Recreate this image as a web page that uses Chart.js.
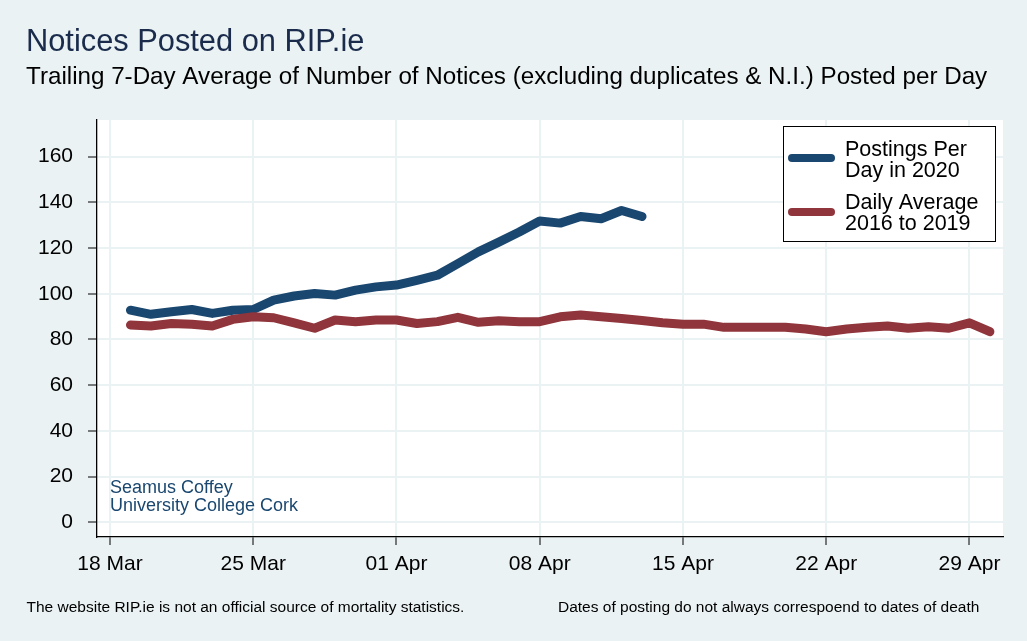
<!DOCTYPE html>
<html><head><meta charset="utf-8">
<script src="https://cdn.jsdelivr.net/npm/chart.js@4/dist/chart.umd.min.js"></script>
<style>html,body{margin:0;padding:0;background:#eaf2f3;overflow:hidden}#wrap{width:1027px;height:641px;position:relative}</style>
</head><body><div id="wrap"><canvas id="c" width="1027" height="641"></canvas></div>
<script>
const dates = ["2020-03-19","2020-03-20","2020-03-21","2020-03-22","2020-03-23","2020-03-24","2020-03-25","2020-03-26","2020-03-27","2020-03-28","2020-03-29","2020-03-30","2020-03-31","2020-04-01","2020-04-02","2020-04-03","2020-04-04","2020-04-05","2020-04-06","2020-04-07","2020-04-08","2020-04-09","2020-04-10","2020-04-11","2020-04-12","2020-04-13","2020-04-14","2020-04-15","2020-04-16","2020-04-17","2020-04-18","2020-04-19","2020-04-20","2020-04-21","2020-04-22","2020-04-23","2020-04-24","2020-04-25","2020-04-26","2020-04-27","2020-04-28","2020-04-29","2020-04-30"];
const postings2020 = [92.8,91.0,92.1,93.1,91.4,92.8,93.1,97.2,99.0,100.1,99.4,101.6,103.0,103.8,105.9,108.1,113.2,118.3,122.6,127.0,131.8,130.9,133.8,132.8,136.4,133.8];
const average2016to2019 = [86.3,85.9,87.0,86.7,85.9,88.8,89.9,89.5,87.3,84.9,88.5,87.8,88.5,88.5,87.0,87.8,89.7,87.5,88.2,87.8,87.8,89.9,90.7,89.9,89.2,88.3,87.3,86.7,86.7,85.3,85.3,85.3,85.3,84.6,83.4,84.6,85.3,85.9,84.9,85.6,84.9,87.3,83.4];
const tickDates = ["2020-03-18","2020-03-25","2020-04-01","2020-04-08","2020-04-15","2020-04-22","2020-04-29"];
const tickLabels = ["18 Mar","25 Mar","01 Apr","08 Apr","15 Apr","22 Apr","29 Apr"];
const yTicks = [0,20,40,60,80,100,120,140,160];
const seriesNames = [["Postings Per","Day in 2020"],["Daily Average","2016 to 2019"]];
const titleText = "Notices Posted on RIP.ie";
const subtitleText = "Trailing 7-Day Average of Number of Notices (excluding duplicates & N.I.) Posted per Day";
const captionLines = ["Seamus Coffey","University College Cork"];
const noteLeft = "The website RIP.ie is not an official source of mortality statistics.";
const noteRight = "Dates of posting do not always correspoend to dates of death";

const BLUE = "#1a476f", RED = "#90353b", BG = "#eaf2f3";
const FONT = "'Liberation Sans', Arial, sans-serif";
const origin = Date.parse("2020-03-18");
const day = s => Math.round((Date.parse(s) - origin) / 86400000);
const tickDays = tickDates.map(day);

const deco = {
  id: 'deco',
  beforeDraw(chart) {
    const {ctx, chartArea: a} = chart;
    ctx.save();
    ctx.fillStyle = BG; ctx.fillRect(0, 0, chart.width, chart.height);
    ctx.fillStyle = '#ffffff'; ctx.fillRect(a.left, a.top, a.right - a.left, a.bottom - a.top);
    ctx.restore();
  },
  afterDraw(chart) {
    const ctx = chart.ctx;
    ctx.save();
    ctx.textAlign = 'left'; ctx.textBaseline = 'alphabetic';
    ctx.fillStyle = '#1a2b4c'; ctx.font = `30.8px ${FONT}`;
    ctx.fillText(titleText, 26, 51);
    ctx.fillStyle = '#000'; ctx.font = `24.2px ${FONT}`;
    ctx.fillText(subtitleText, 26, 83.5);
    ctx.font = `15.5px ${FONT}`;
    ctx.fillText(noteLeft, 26.5, 612);
    ctx.fillText(noteRight, 558, 612);
    ctx.fillStyle = BLUE; ctx.font = `18px ${FONT}`;
    ctx.fillText(captionLines[0], 110, 493);
    ctx.fillText(captionLines[1], 110, 511);
    // legend
    ctx.fillStyle = '#fff'; ctx.fillRect(783, 126, 212, 116);
    ctx.strokeStyle = '#000'; ctx.lineWidth = 1; ctx.strokeRect(783.5, 126.5, 212, 115);
    ctx.lineCap = 'round'; ctx.lineWidth = 8;
    [[BLUE, 158], [RED, 212]].forEach(([c, y]) => {
      ctx.strokeStyle = c; ctx.beginPath(); ctx.moveTo(792, y); ctx.lineTo(831, y); ctx.stroke();
    });
    ctx.fillStyle = '#000'; ctx.font = `21.5px ${FONT}`;
    ctx.fillText(seriesNames[0][0], 845, 156);
    ctx.fillText(seriesNames[0][1], 845, 177);
    ctx.fillText(seriesNames[1][0], 845, 208.5);
    ctx.fillText(seriesNames[1][1], 845, 230);
    ctx.restore();
  }
};

new Chart(document.getElementById('c'), {
  type: 'line',
  data: {
    datasets: [
      { label: seriesNames[1].join(' '), data: average2016to2019.map((v, i) => ({x: day(dates[i]), y: v})),
        borderColor: RED, borderWidth: 9, borderCapStyle: 'round', borderJoinStyle: 'round', pointRadius: 0, tension: 0, fill: false },
      { label: seriesNames[0].join(' '), data: postings2020.map((v, i) => ({x: day(dates[i]), y: v})),
        borderColor: BLUE, borderWidth: 9, borderCapStyle: 'round', borderJoinStyle: 'round', pointRadius: 0, tension: 0, fill: false }
    ]
  },
  options: {
    responsive: false, animation: false, devicePixelRatio: 1,
    layout: { padding: { top: 120, right: 24, left: 0, bottom: 0 } },
    plugins: { legend: { display: false }, tooltip: { enabled: false }, title: { display: false } },
    scales: {
      x: {
        type: 'linear', min: -0.635, max: 43.64,
        afterFit: s => { s.height = 104; },
        afterBuildTicks: s => { s.ticks = tickDays.map(v => ({value: v})); },
        ticks: { callback: (v) => tickLabels[tickDays.indexOf(v)], color: '#000', font: { family: FONT, size: 21 }, padding: 7, maxRotation: 0, autoSkip: false },
        grid: { color: BG, lineWidth: 2, tickColor: '#000', tickLength: 8, tickWidth: 1 },
        border: { display: true, color: '#000', width: 1.3 }
      },
      y: {
        min: -6.4, max: 176,
        afterFit: s => { s.width = 97; },
        afterBuildTicks: s => { s.ticks = yTicks.map(v => ({value: v})); },
        ticks: { color: '#000', font: { family: FONT, size: 21 }, padding: 15 },
        grid: { color: BG, lineWidth: 2, tickColor: '#000', tickLength: 9, tickWidth: 1 },
        border: { display: true, color: '#000', width: 1.3 }
      }
    }
  },
  plugins: [deco]
});
</script></body></html>
